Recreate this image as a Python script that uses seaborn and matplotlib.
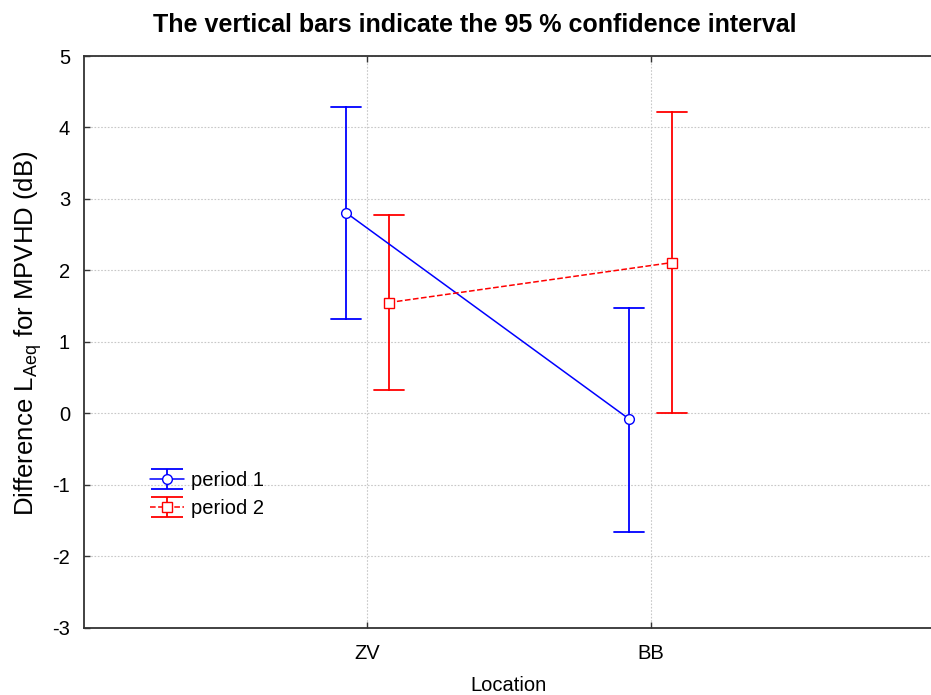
import numpy as np
import pandas as pd
import matplotlib
matplotlib.use("Agg")
import matplotlib.pyplot as plt
import seaborn as sns
from matplotlib.lines import Line2D
from matplotlib.collections import LineCollection
from matplotlib.container import ErrorbarContainer

# ---- data ----
locations = ["ZV", "BB"]
periods = ["period 1", "period 2"]
period1_mean = [2.81, -0.08]
period1_low = [1.32, -1.66]
period1_high = [4.28, 1.48]
period2_mean = [1.55, 2.11]
period2_low = [0.32, 0.01]
period2_high = [2.78, 4.21]
yticks = [-3, -2, -1, 0, 1, 2, 3, 4, 5]

colors = {"period 1": "#0000FF", "period 2": "#FF0000"}

rows = []
for per, lo, mu, hi in [("period 1", period1_low, period1_mean, period1_high),
                        ("period 2", period2_low, period2_mean, period2_high)]:
    for i, loc in enumerate(locations):
        for v in (lo[i], mu[i], hi[i]):
            rows.append({"Location": loc, "Period": per, "value": v})
df = pd.DataFrame(rows)

sns.set_style("white")
plt.rcParams["font.family"] = ["Liberation Sans", "DejaVu Sans"]
plt.rcParams["mathtext.fontset"] = "custom"
plt.rcParams["mathtext.rm"] = "Liberation Sans"
plt.rcParams["mathtext.it"] = "Liberation Sans:italic"
plt.rcParams["text.color"] = "black"
plt.rcParams["axes.labelcolor"] = "black"

fig = plt.figure(figsize=(9.31, 6.95), dpi=100)
ax = fig.add_axes([84 / 931, (695 - 627.7) / 695, 850 / 931, 571.7 / 695])

sns.pointplot(
    data=df, x="Location", y="value", hue="Period",
    order=locations, hue_order=periods,
    palette=colors, estimator="median",
    errorbar=lambda v: (v.min(), v.max()),
    markers=["o", "s"], linestyles=["-", "--"],
    dodge=0.152, capsize=0.106,
    err_kws={"linewidth": 1.3},
    linewidth=1.1, markersize=7, markeredgewidth=1.0,
    ax=ax,
)

for ln in ax.lines:
    if ln.get_marker() not in (None, "None", "", " "):
        ln.set_markerfacecolor("white")
        ln.set_zorder(5)

ax.set_xlim(-1, 2)
ax.set_ylim(-3, 5)
ax.set_yticks(yticks)
ax.set_yticklabels([str(t) for t in yticks])

ax.grid(True, color="#c8c8c8", linestyle=(0, (1.5, 1.5)), linewidth=0.8)
ax.set_axisbelow(True)
for s in ["left", "top", "bottom"]:
    ax.spines[s].set_visible(True)
    ax.spines[s].set_color("#333333")
    ax.spines[s].set_linewidth(1.3)
ax.spines["right"].set_visible(False)
ax.tick_params(axis="both", direction="in", length=4, width=1, labelsize=14.5,
               colors="#333333", labelcolor="black", pad=10)
ax.tick_params(axis="x", top=True, bottom=True, pad=12)
ax.tick_params(axis="y", left=True)

ax.set_xlabel("Location", fontsize=14.5)
ax.xaxis.set_label_coords(0.5, -0.084)
ax.set_ylabel(r"Difference L$_{\mathrm{Aeq}}$ for MPVHD (dB)", fontsize=18.5)
ax.yaxis.set_label_coords(-0.047, 0.515)
fig.suptitle("The vertical bars indicate the 95 % confidence interval",
             fontsize=18, fontweight="bold", x=0.51, y=0.982)

# legend with error-bar style handles
if ax.get_legend() is not None:
    ax.get_legend().remove()
handles = []
for per, mk, ls in zip(periods, ["o", "s"], ["-", "--"]):
    c = colors[per]
    dl = Line2D([], [], color=c, marker=mk, linestyle=ls, markerfacecolor="white",
                markersize=7, linewidth=1.1)
    cap = Line2D([], [], color=c, marker="_", linestyle="none", markersize=23,
                 markeredgewidth=1.3)
    bars = LineCollection([], colors=c, linewidths=1.3)
    handles.append(ErrorbarContainer((dl, (cap, cap), (bars,)),
                                     has_xerr=False, has_yerr=True, label=per))
ax.legend(handles=handles, labels=periods, loc="upper left",
          bbox_to_anchor=(0.056, 0.305), frameon=False, fontsize=14.5,
          handlelength=1.7, handletextpad=0.35, labelspacing=0.42)

fig.savefig("out.png", dpi=100)
